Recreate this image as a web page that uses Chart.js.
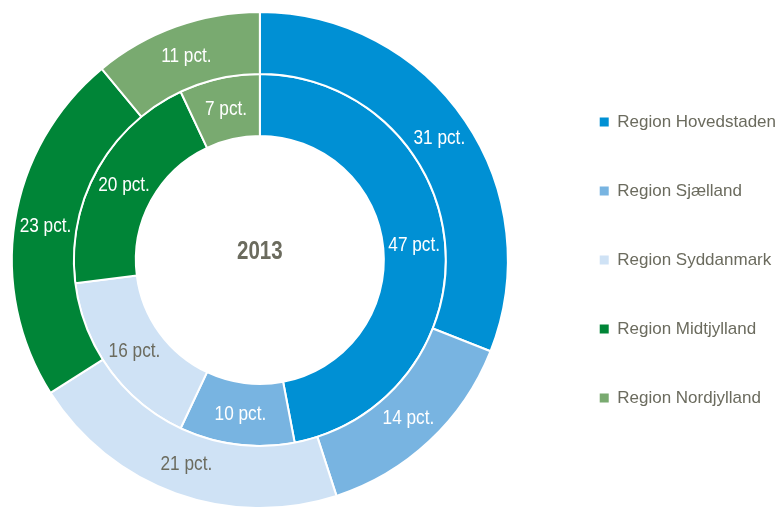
<!DOCTYPE html>
<html>
<head>
<meta charset="utf-8">
<script src="https://cdn.jsdelivr.net/npm/chart.js@4.4.1/dist/chart.umd.min.js"></script>
<style>
  html, body { margin: 0; padding: 0; background: #fff; overflow: hidden; }
  #boks { width: 808px; height: 509px; position: relative; margin-left: -28px; }
</style>
</head>
<body>
<div id="boks"><canvas id="regionDonut"></canvas></div>
<script>
  // data
  const regioner = ['Region Hovedstaden', 'Region Sjælland', 'Region Syddanmark', 'Region Midtjylland', 'Region Nordjylland'];
  const ydreRing = [31, 14, 21, 23, 11];
  const indreRing = [47, 10, 16, 20, 7];
  const aarstal = '2013';

  const farver = [
    '#0090d4', // mørk blå
    '#78b4e1', // mellem blå
    '#cfe2f5', // lys blå
    '#008537', // grøn
    '#79aa70'  // lys grøn
  ];
  const tekstFarver = ['#ffffff', '#ffffff', '#6b6b5e', '#ffffff', '#ffffff'];
  const graa = '#6b6b5e';
  const skrift = "'Liberation Sans', Arial, sans-serif";

  // smal tekst (efterligner Arial Narrow)
  function smalTekst(ctx, tekst, x, y) {
    ctx.save();
    ctx.translate(x, y);
    ctx.scale(0.82, 1);
    ctx.fillText(tekst, 0, 0);
    ctx.restore();
  }

  // etiketter midt i hvert udsnit
  const etiketter = {
    id: 'etiketter',
    afterDatasetsDraw(chart) {
      const ctx = chart.ctx;
      ctx.save();
      ctx.font = '21px ' + skrift;
      ctx.textAlign = 'center';
      ctx.textBaseline = 'middle';
      chart.data.datasets.forEach((ds, i) => {
        const meta = chart.getDatasetMeta(i);
        meta.data.forEach((arc, j) => {
          const p = arc.tooltipPosition();
          ctx.fillStyle = tekstFarver[j];
          smalTekst(ctx, ds.data[j] + ' pct.', p.x, p.y);
        });
      });
      // årstal i midten
      const m = chart.getDatasetMeta(0).data[0];
      ctx.font = 'bold 25px ' + skrift;
      ctx.fillStyle = graa;
      smalTekst(ctx, aarstal, m.x, m.y - 8);
      ctx.restore();
    }
  };

  new Chart(document.getElementById('regionDonut'), {
    type: 'doughnut',
    data: {
      labels: regioner,
      datasets: [
        { data: ydreRing, backgroundColor: farver, borderColor: '#ffffff', borderWidth: 2 },
        { data: indreRing, backgroundColor: farver, borderColor: '#ffffff', borderWidth: 2 }
      ]
    },
    options: {
      responsive: true,
      maintainAspectRatio: false,
      animation: false,
      cutout: '50%',
      layout: { padding: { top: 11, bottom: 0, left: 0, right: -6 } },
      plugins: {
        tooltip: { enabled: false },
        legend: {
          position: 'right',
          labels: {
            boxWidth: 9,
            boxHeight: 9,
            padding: 52,
            color: graa,
            font: { size: 17, family: skrift },
            generateLabels(chart) {
              const items = Chart.overrides.doughnut.plugins.legend.labels.generateLabels(chart);
              items.forEach(it => { it.lineWidth = 0; it.strokeStyle = 'rgba(0,0,0,0)'; });
              return items;
            }
          }
        }
      }
    },
    plugins: [etiketter]
  });
</script>
</body>
</html>
